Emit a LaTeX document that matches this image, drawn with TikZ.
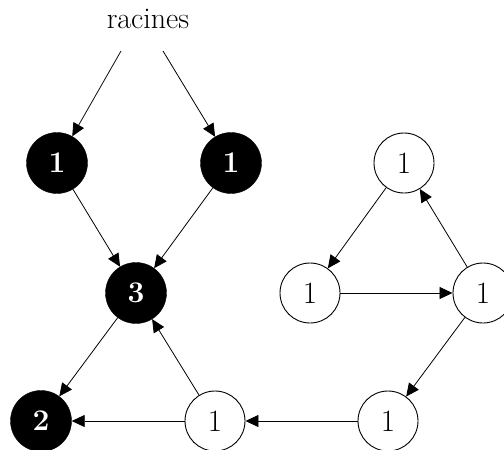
\documentclass[tikz,border=0pt]{standalone}
\usepackage{fontspec}
\setmainfont{Latin Modern Roman}
\usetikzlibrary{arrows.meta}
\begin{document}
\begin{tikzpicture}[x=1pt,y=-1pt,
  numfont/.style={font=\fontsize{31}{36}\selectfont},
  blk/.style={circle, fill=black, draw=black, minimum size=61pt, inner sep=0pt, text=white, font=\fontsize{30}{35}\selectfont\bfseries},
  wht/.style={circle, fill=white, draw=black, line width=0.9pt, minimum size=60pt, inner sep=0pt, numfont},
  arr/.style={-{Triangle[length=13pt,width=12pt]}, line width=0.8pt}]
\useasboundingbox (0,0) rectangle (504,450);
\clip (0,0) rectangle (504,450);
\node[anchor=base, font=\fontsize{30}{35}\selectfont, inner sep=0pt] (rac) at (148,28) {racines};
\coordinate (r1) at (121,51);
\coordinate (r2) at (163,51);
\node[blk] (a) at (57,163) {1};
\node[blk] (b) at (231,163) {1};
\node[blk] (c) at (136,293) {3};
\node[blk] (d) at (41,421) {2};
\node[wht] (e) at (215,421) {1};
\node[wht] (f) at (388,421) {1};
\node[wht] (t) at (404,163) {1};
\node[wht] (l) at (310,293) {1};
\node[wht] (r) at (483,293) {1};
\draw[arr] (r1) -- (a);
\draw[arr] (r2) -- (b);
\draw[arr] (a) -- (c);
\draw[arr] (b) -- (c);
\draw[arr] (c) -- (d);
\draw[arr] (e) -- (c);
\draw[arr] (e) -- (d);
\draw[arr] (f) -- (e);
\draw[arr] (r) -- (f);
\draw[arr] (r) -- (t);
\draw[arr] (t) -- (l);
\draw[arr] (l) -- (r);
\end{tikzpicture}
\end{document}
